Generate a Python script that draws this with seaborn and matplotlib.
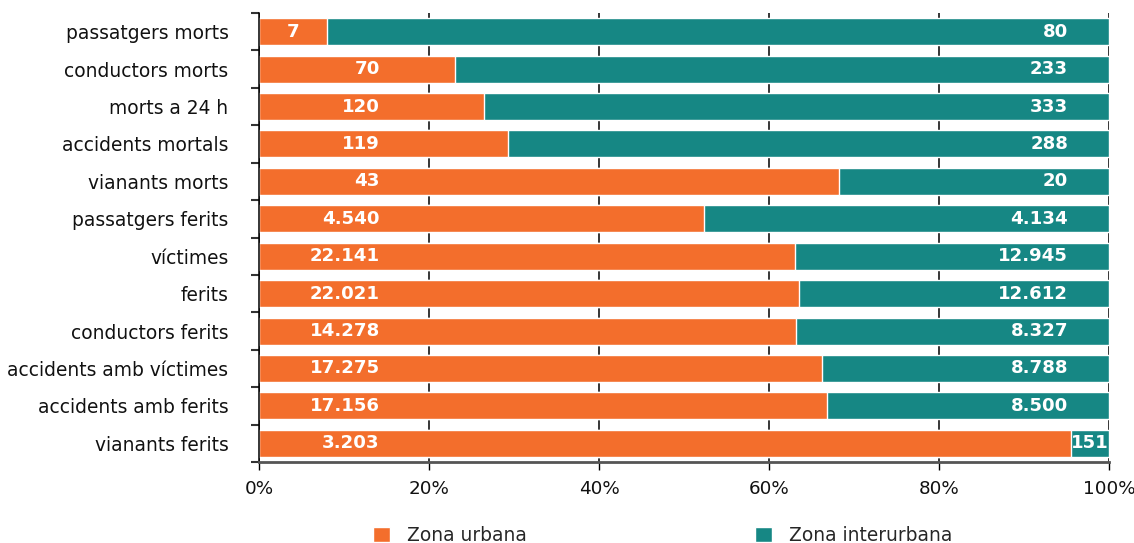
import matplotlib
matplotlib.use("Agg")
import matplotlib.pyplot as plt
import seaborn as sns
import pandas as pd
import numpy as np
from matplotlib.patches import Patch
from matplotlib.ticker import FixedLocator, PercentFormatter

categories = ["passatgers morts", "conductors morts", "morts a 24 h", "accidents mortals",
              "vianants morts", "passatgers ferits", "víctimes", "ferits",
              "conductors ferits", "accidents amb víctimes", "accidents amb ferits",
              "vianants ferits"]
urbana = [7, 70, 120, 119, 43, 4540, 22141, 22021, 14278, 17275, 17156, 3203]
interurbana = [80, 233, 333, 288, 20, 4134, 12945, 12612, 8327, 8788, 8500, 151]

ORANGE = "#F36E2C"
TEAL = "#168784"

def fmt(v):
    return f"{v:,}".replace(",", ".")

df = pd.DataFrame({"cat": categories, "urb": urbana, "inter": interurbana})
df["total"] = df["urb"] + df["inter"]
df["urb_pct"] = df["urb"] / df["total"] * 100
df["all_pct"] = 100.0

sns.set_theme(style="white")
plt.rcParams["font.family"] = ["DejaVu Sans"]

fig = plt.figure(figsize=(11.34, 5.43), dpi=100)
ax = fig.add_axes([259/1134, 1-462/543, 850/1134, 449/543])

sns.barplot(data=df, y="cat", x="all_pct", color=TEAL, orient="h", width=0.72,
            saturation=1, ax=ax, order=categories)
sns.barplot(data=df, y="cat", x="urb_pct", color=ORANGE, orient="h", width=0.72,
            saturation=1, ax=ax, order=categories)

ax.set_xlim(0, 100)
ax.set_ylim(len(categories) - 0.5, -0.5)
ax.set_xlabel("")
ax.set_ylabel("")
ax.set_xticks([0, 20, 40, 60, 80, 100])
ax.xaxis.set_major_formatter(PercentFormatter(decimals=0))
ax.grid(axis="x", color="black", linewidth=1.1)
ax.grid(axis="y", visible=False)
ax.set_axisbelow(True)

for s in ["top", "right"]:
    ax.spines[s].set_visible(False)
ax.spines["left"].set_color("black")
ax.spines["left"].set_linewidth(1.1)
ax.spines["bottom"].set_color("#555555")
ax.spines["bottom"].set_linewidth(2)

ax.tick_params(axis="x", which="major", bottom=True, length=6, width=1, color="black",
               labelsize=13.2, pad=7, labelcolor="#111111")
ax.tick_params(axis="y", which="major", left=False, length=0, labelsize=13.4, pad=22,
               labelcolor="#111111")
ax.yaxis.set_minor_locator(FixedLocator(np.arange(-0.5, len(categories), 1.0)))
ax.tick_params(axis="y", which="minor", left=True, length=6, width=1.5, color="#333333")

# value labels
x_urb_right = 14.2
x_int_right = 95.2
LFS = 13.1
for i, row in df.iterrows():
    up = row["urb_pct"]
    if up < x_urb_right + 1:
        ax.text(up / 2, i, fmt(row["urb"]), ha="center", va="center", color="white",
                fontsize=LFS, fontweight="bold")
    else:
        ax.text(x_urb_right, i, fmt(row["urb"]), ha="right", va="center", color="white",
                fontsize=LFS, fontweight="bold")
    if up > x_int_right - 5:
        ax.text((up + 100) / 2, i, fmt(row["inter"]), ha="center", va="center", color="white",
                fontsize=LFS, fontweight="bold")
    else:
        ax.text(x_int_right, i, fmt(row["inter"]), ha="right", va="center", color="white",
                fontsize=LFS, fontweight="bold")

handles = [Patch(facecolor=ORANGE, label="Zona urbana"),
           Patch(facecolor=TEAL, label="Zona interurbana")]
fig.legend(handles=handles, loc="lower left", bbox_to_anchor=(360/1134, -0.028), ncol=2,
           frameon=False, fontsize=13.4, handlelength=0.9, handleheight=0.9,
           columnspacing=12.3, handletextpad=0.9, borderpad=0.2)

fig.savefig("out.png", dpi=100)
